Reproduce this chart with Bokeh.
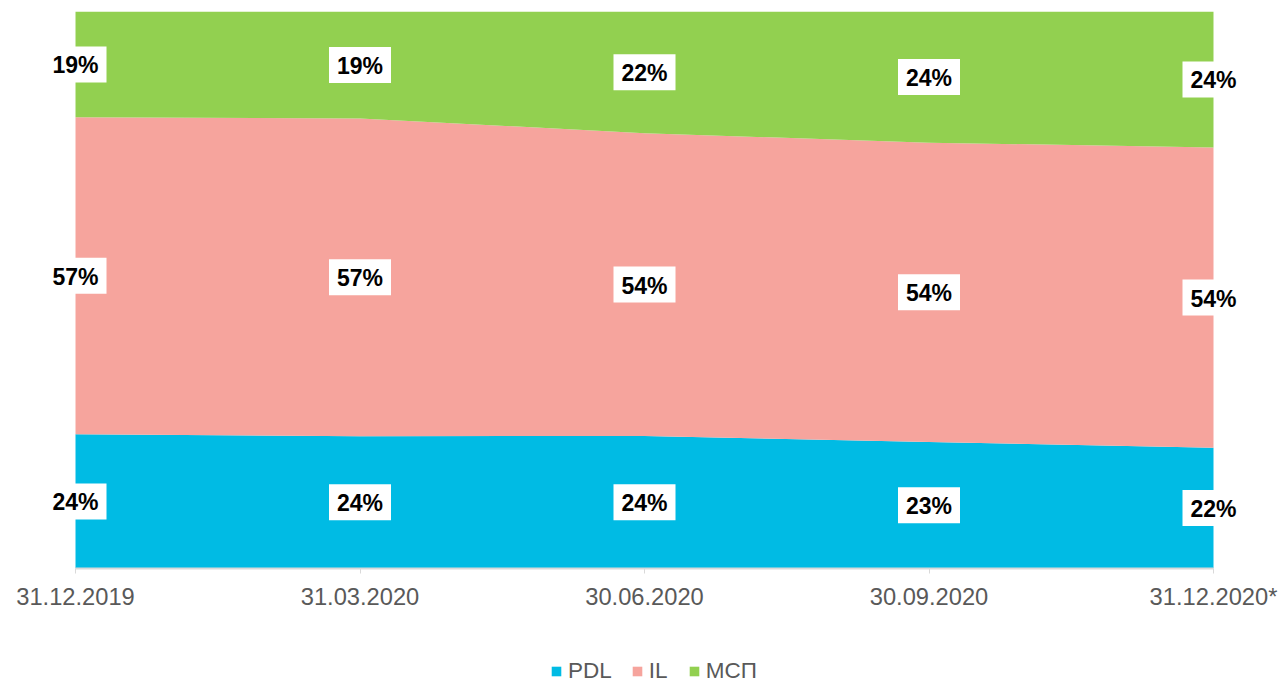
from bokeh.plotting import figure
from bokeh.layouts import column
from bokeh.models import ColumnDataSource, Range1d, FixedTicker, Legend, LegendItem
from bokeh.core.properties import value
from bokeh.embed import file_html
from bokeh.resources import INLINE

# ---- data ----
categories = ["31.12.2019", "31.03.2020", "30.06.2020", "30.09.2020", "31.12.2020*"]
pdl = [24.1, 23.75, 23.8, 22.7, 21.7]
il = [56.9, 57.05, 54.35, 53.75, 53.9]
msp = [19.0, 19.2, 21.85, 23.55, 24.4]
pdl_labels = ["24%", "24%", "24%", "23%", "22%"]
il_labels = ["57%", "57%", "54%", "54%", "54%"]
msp_labels = ["19%", "19%", "22%", "24%", "24%"]
series_names = ["PDL", "IL", "МСП"]
colors = ["#00BBE4", "#F6A49D", "#92D050"]

x = list(range(len(categories)))
source = ColumnDataSource(dict(x=x, pdl=pdl, il=il, msp=msp))

# layout: data x=0 sits at 75px, last category at 1213px of a 1278px-wide frame
W = 1278
left_px, right_px = 75, 1213
unit = (right_px - left_px) / (len(categories) - 1)
x_start = -left_px / unit
x_end = (len(categories) - 1) + (W - right_px) / unit

p = figure(width=W, height=620, output_backend="svg", toolbar_location=None,
           x_range=Range1d(x_start, x_end), y_range=Range1d(0, 100),
           min_border_left=0, min_border_right=0, min_border_top=11, min_border_bottom=52)
p.outline_line_color = None
p.xgrid.visible = False
p.ygrid.visible = False
p.yaxis.visible = False
p.background_fill_color = "white"
p.border_fill_color = "white"

rends = p.varea_stack(stackers=["pdl", "il", "msp"], x="x", color=colors, source=source)

# labels
lx, ly, lt = [], [], []
for i in x:
    b1 = pdl[i]
    b2 = pdl[i] + il[i]
    b3 = pdl[i] + il[i] + msp[i]
    scale = 100.0 / b3
    for lo, hi, lab in ((0, b1, pdl_labels[i]), (b1, b2, il_labels[i]), (b2, b3, msp_labels[i])):
        lx.append(i)
        ly.append((lo + hi) / 2 * scale)
        lt.append(lab)
lsrc = ColumnDataSource(dict(x=lx, y=ly, t=lt))
p.rect(x="x", y="y", width=62, height=36, width_units="screen", height_units="screen",
       fill_color="white", line_color=None, source=lsrc)
p.text(x="x", y="y", text="t", source=lsrc, text_font=value("Liberation Sans"),
       text_font_style="bold", text_font_size="23px", text_color="black",
       text_align="center", text_baseline="middle", y_offset=1)

# x axis
ax = p.xaxis[0]
ax.ticker = FixedTicker(ticks=x)
ax.bounds = (0, len(categories) - 1)
ax.major_label_overrides = {i: c for i, c in zip(x, categories)}
ax.axis_line_color = "#D9D9D9"
ax.axis_line_width = 2
ax.major_tick_line_color = "#D9D9D9"
ax.major_tick_out = 5
ax.major_tick_in = 0
ax.minor_tick_line_color = None
ax.major_label_text_font = "Liberation Sans"
ax.major_label_text_font_size = "23.7px"
ax.major_label_text_color = "#595959"
ax.major_label_standoff = 10

# legend strip
LH = 62
lf = figure(width=W, height=LH, output_backend="svg", toolbar_location=None,
            x_range=Range1d(0, W), y_range=Range1d(0, LH),
            min_border_left=0, min_border_right=0, min_border_top=0, min_border_bottom=0)
lf.outline_line_color = None
lf.xaxis.visible = False
lf.yaxis.visible = False
lf.xgrid.visible = False
lf.ygrid.visible = False
lf.border_fill_color = "white"
lf.background_fill_color = "white"
# off-screen proxies so the legend can draw colour swatches
proxy = ColumnDataSource(dict(x=[-50, -40], y1=[-50, -50], y2=[-40, -40]))
drs = [lf.varea(x="x", y1="y1", y2="y2", fill_color=c, source=proxy) for c in colors]
legend = Legend(items=[LegendItem(label=n, renderers=[r]) for n, r in zip(series_names, drs)],
                orientation="horizontal", location=(550, -2),
                glyph_width=12, glyph_height=12, label_standoff=6, spacing=19,
                padding=0, margin=0, border_line_color=None, background_fill_alpha=0,
                label_text_font="Liberation Sans", label_text_font_size="22.5px",
                label_text_color="#595959", label_height=20)
lf.add_layout(legend, "center")

layout = column(p, lf, spacing=0)
open("out.html", "w").write(file_html(layout, INLINE))
